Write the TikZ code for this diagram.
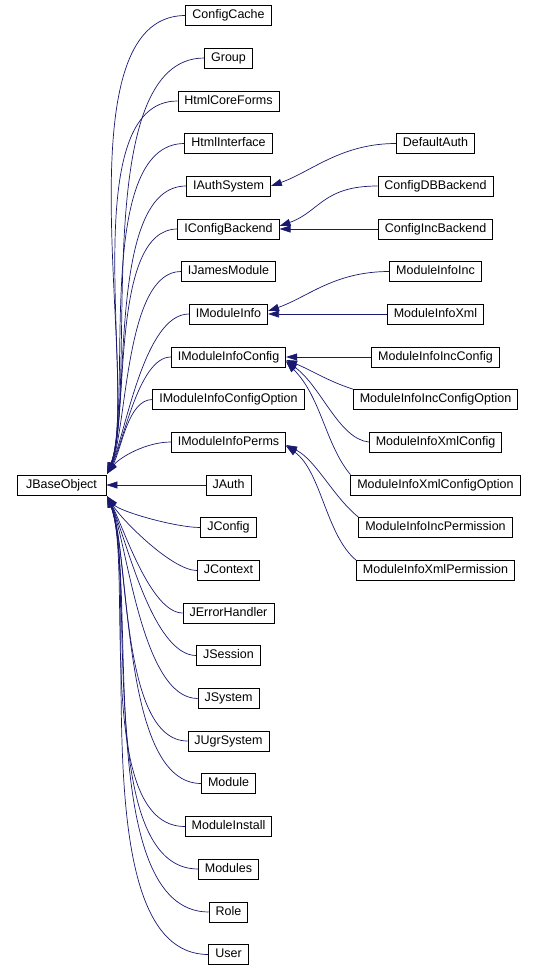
\documentclass[tikz,border=0pt]{standalone}
\usepackage{fontspec}
\setmainfont{Liberation Sans}
\usepackage{tikz}
\usetikzlibrary{
    calc,
    arrows.meta
}
\definecolor{edgeblue}{HTML}{191970}

\begin{document}
\begin{tikzpicture}[x=1pt,y=-1pt,
  cls/.style={draw,line width=0.8pt,fill=white,inner xsep=6.5pt,inner ysep=0pt,
    minimum height=20pt,text height=9pt,text depth=2.5pt,
    font=\fontsize{12.5}{14}\selectfont},
  inherit/.style={draw=edgeblue,line width=0.7pt,-{Triangle[length=11pt,width=7pt]}}]
\useasboundingbox (0,0) rectangle (534,969);

\node[cls,minimum width=89pt] (JBaseObject) at (61.5,485) {JBaseObject};
\coordinate (BaseUp) at ($(JBaseObject.north east)+(1,-1)$);
\coordinate (BaseDown) at ($(JBaseObject.south east)+(1,1)$);

% direct subclasses
\node[cls] (ConfigCache) at (228.5,15.5) {ConfigCache};
\node[cls] (Group) at (228.5,58) {Group};
\node[cls] (HtmlCoreForms) at (228.5,101) {HtmlCoreForms};
\node[cls] (HtmlInterface) at (228.5,143.5) {HtmlInterface};
\node[cls] (IAuthSystem) at (228.5,186) {IAuthSystem};
\node[cls] (IConfigBackend) at (228.5,229) {IConfigBackend};
\node[cls] (IJamesModule) at (228.5,271.5) {IJamesModule};
\node[cls] (IModuleInfo) at (228.5,314) {IModuleInfo};
\node[cls] (IModuleInfoConfig) at (228.5,357) {IModuleInfoConfig};
\node[cls] (IModuleInfoConfigOption) at (228.5,399.5) {IModuleInfoConfigOption};
\node[cls] (IModuleInfoPerms) at (228.5,442) {IModuleInfoPerms};
\node[cls] (JAuth) at (228.5,485) {JAuth};
\node[cls] (JConfig) at (228.5,527.5) {JConfig};
\node[cls] (JContext) at (228.5,570.5) {JContext};
\node[cls] (JErrorHandler) at (228.5,613) {JErrorHandler};
\node[cls] (JSession) at (228.5,655.5) {JSession};
\node[cls] (JSystem) at (228.5,698.5) {JSystem};
\node[cls] (JUgrSystem) at (228.5,741) {JUgrSystem};
\node[cls] (Module) at (228.5,783.5) {Module};
\node[cls] (ModuleInstall) at (228.5,826.5) {ModuleInstall};
\node[cls] (Modules) at (228.5,869) {Modules};
\node[cls] (Role) at (228.5,912) {Role};
\node[cls] (User) at (228.5,954.5) {User};

% second level
\node[cls] (DefaultAuth) at (435.5,143.5) {DefaultAuth};
\node[cls] (ConfigDBBackend) at (435.5,186) {ConfigDBBackend};
\node[cls] (ConfigIncBackend) at (435.5,229) {ConfigIncBackend};
\node[cls] (ModuleInfoInc) at (435.5,271.5) {ModuleInfoInc};
\node[cls] (ModuleInfoXml) at (435.5,314) {ModuleInfoXml};
\node[cls] (ModuleInfoIncConfig) at (435.5,357) {ModuleInfoIncConfig};
\node[cls] (ModuleInfoIncConfigOption) at (435.5,399.5) {ModuleInfoIncConfigOption};
\node[cls] (ModuleInfoXmlConfig) at (435.5,442) {ModuleInfoXmlConfig};
\node[cls] (ModuleInfoXmlConfigOption) at (435.5,485) {ModuleInfoXmlConfigOption};
\node[cls] (ModuleInfoIncPermission) at (435.5,527.5) {ModuleInfoIncPermission};
\node[cls] (ModuleInfoXmlPermission) at (435.5,570.5) {ModuleInfoXmlPermission};

% edges to JBaseObject
\draw[inherit] (ConfigCache.west) .. controls +(-128,0) and +(33,-92) .. (BaseUp);
\draw[inherit] (Group.west) .. controls +(-116,0) and +(31,-85) .. (BaseUp);
\draw[inherit] (HtmlCoreForms.west) .. controls +(-104,0) and +(29,-77) .. (BaseUp);
\draw[inherit] (HtmlInterface.west) .. controls +(-92,0) and +(26,-69) .. (BaseUp);
\draw[inherit] (IAuthSystem.west) .. controls +(-80,0) and +(24,-62) .. (BaseUp);
\draw[inherit] (IConfigBackend.west) .. controls +(-68,0) and +(22,-54) .. (BaseUp);
\draw[inherit] (IJamesModule.west) .. controls +(-56,0) and +(20,-46) .. (BaseUp);
\draw[inherit] (IModuleInfo.west) .. controls +(-45,0) and +(18,-39) .. (BaseUp);
\draw[inherit] (IModuleInfoConfig.west) .. controls +(-32,0) and +(16,-31) .. (BaseUp);
\draw[inherit] (IModuleInfoConfigOption.west) .. controls +(-25,0) and +(14,-23) .. (BaseUp);
\draw[inherit] (IModuleInfoPerms.west) .. controls +(-25,0) and +(12,-16) .. (BaseUp);
\draw[inherit] (JAuth) -- (JBaseObject);
\draw[inherit] (JConfig.west) .. controls +(-25,0) and +(12,15) .. (BaseDown);
\draw[inherit] (JContext.west) .. controls +(-25,0) and +(14,23) .. (BaseDown);
\draw[inherit] (JErrorHandler.west) .. controls +(-32,0) and +(16,31) .. (BaseDown);
\draw[inherit] (JSession.west) .. controls +(-44,0) and +(18,39) .. (BaseDown);
\draw[inherit] (JSystem.west) .. controls +(-56,0) and +(20,46) .. (BaseDown);
\draw[inherit] (JUgrSystem.west) .. controls +(-68,0) and +(22,54) .. (BaseDown);
\draw[inherit] (Module.west) .. controls +(-80,0) and +(24,62) .. (BaseDown);
\draw[inherit] (ModuleInstall.west) .. controls +(-92,0) and +(26,69) .. (BaseDown);
\draw[inherit] (Modules.west) .. controls +(-104,0) and +(29,77) .. (BaseDown);
\draw[inherit] (Role.west) .. controls +(-116,0) and +(31,85) .. (BaseDown);
\draw[inherit] (User.west) .. controls +(-128,0) and +(33,92) .. (BaseDown);

% edges to the interfaces
\draw[inherit] (DefaultAuth.west) .. controls +(-55,0) and +(40,-14) .. (IAuthSystem.east);
\draw[inherit] (ConfigDBBackend.west) .. controls +(-55,0) and +(40,-14) .. ([yshift=3pt]IConfigBackend.east);
\draw[inherit] (ConfigIncBackend) -- (IConfigBackend);
\draw[inherit] (ModuleInfoInc.west) .. controls +(-55,0) and +(40,-14) .. ([yshift=3pt]IModuleInfo.east);
\draw[inherit] (ModuleInfoXml) -- (IModuleInfo);
\draw[inherit] (ModuleInfoIncConfig) -- (IModuleInfoConfig);
\draw[inherit] (ModuleInfoIncConfigOption.north west) .. controls +(-25,-8) and +(25,10) .. ([yshift=-3pt]IModuleInfoConfig.east);
\draw[inherit] (ModuleInfoXmlConfig.west) .. controls +(-30,-3) and +(35,25) .. ([yshift=-4pt]IModuleInfoConfig.east);
\draw[inherit] (ModuleInfoXmlConfigOption.north west) .. controls +(-25,-30) and +(35,35) .. ([yshift=-5pt]IModuleInfoConfig.east);
\draw[inherit] (ModuleInfoIncPermission.north west) .. controls +(-25,-20) and +(30,15) .. ([yshift=-3pt]IModuleInfoPerms.east);
\draw[inherit] (ModuleInfoXmlPermission.north west) .. controls +(-30,-25) and +(35,25) .. ([yshift=-4pt]IModuleInfoPerms.east);
\end{tikzpicture}
\end{document}
